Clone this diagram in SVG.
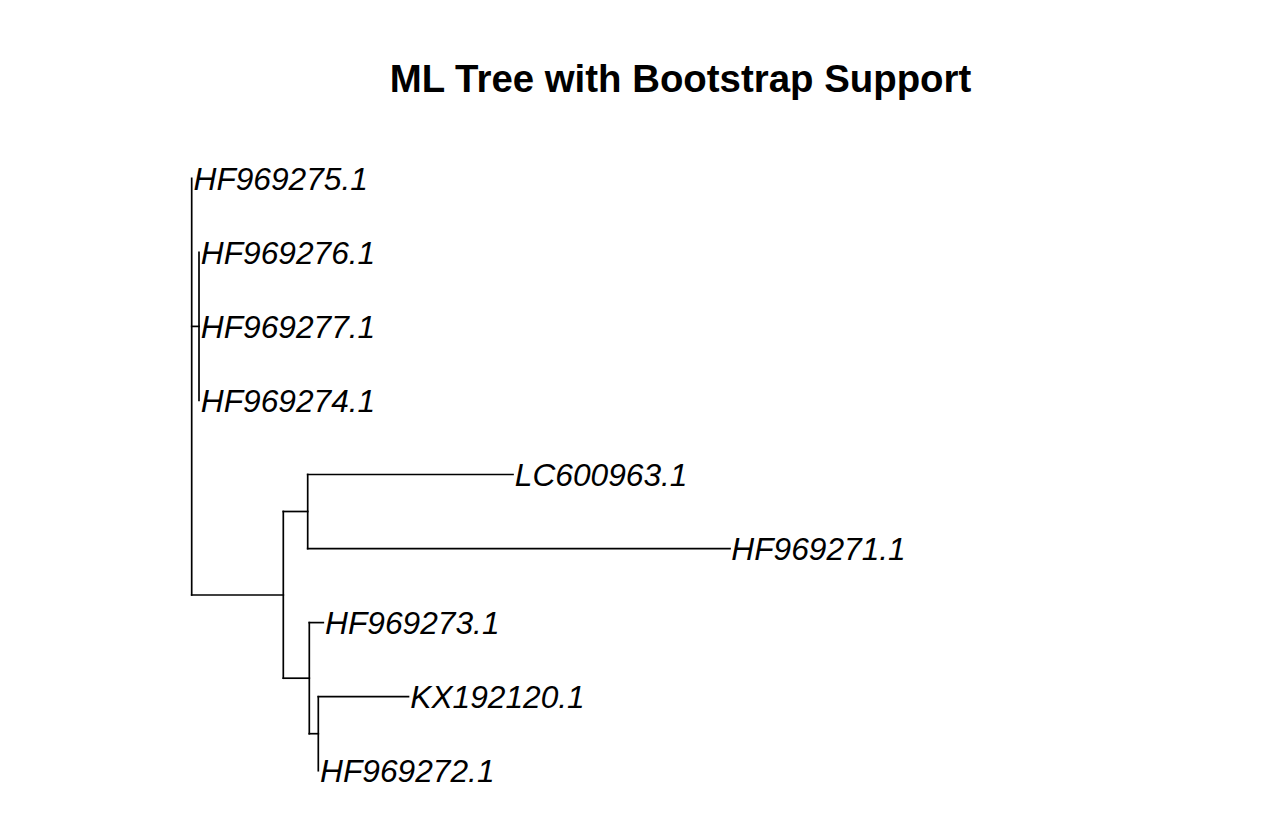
<svg xmlns="http://www.w3.org/2000/svg" width="1264" height="834" viewBox="0 0 1264 834">
<style>
.e{stroke:#000;stroke-width:1.7;fill:none;stroke-linecap:square}
.t{font-family:"Liberation Sans",Arial,sans-serif;font-style:italic;font-size:31.7px;fill:#000}
.h{font-family:"Liberation Sans",Arial,sans-serif;font-weight:bold;font-size:38.4px;fill:#000}
</style>
<rect width="1264" height="834" fill="#fff"/>
<text class="h" x="680.5" y="92" text-anchor="middle">ML Tree with Bootstrap Support</text>
<g id="edges">
<path class="e" d="M191.7,178.3V595"/>
<path class="e" d="M191.7,326.4H199"/>
<path class="e" d="M199,252.4V400.5"/>
<path class="e" d="M191.7,595H283.3"/>
<path class="e" d="M283.3,511.5V678.2"/>
<path class="e" d="M283.3,511.5H307.7"/>
<path class="e" d="M307.7,474.5V548.6"/>
<path class="e" d="M307.7,474.5H513"/>
<path class="e" d="M307.7,548.6H730"/>
<path class="e" d="M283.3,678.2H309.3"/>
<path class="e" d="M309.3,622.6V733.7"/>
<path class="e" d="M309.3,622.6H323.3"/>
<path class="e" d="M309.3,733.7H318.3"/>
<path class="e" d="M318.3,696.7V770.7"/>
<path class="e" d="M318.3,696.7H408.5"/>
</g>
<g id="HF969275.1"><text class="t" x="193.5" y="189.6">HF969275.1</text></g>
<g id="HF969276.1"><text class="t" x="200.8" y="263.7">HF969276.1</text></g>
<g id="HF969277.1"><text class="t" x="200.8" y="337.7">HF969277.1</text></g>
<g id="HF969274.1"><text class="t" x="200.8" y="411.8">HF969274.1</text></g>
<g id="LC600963.1"><text class="t" x="514.8" y="485.8">LC600963.1</text></g>
<g id="HF969271.1"><text class="t" x="731.3" y="559.9">HF969271.1</text></g>
<g id="HF969273.1"><text class="t" x="325.1" y="633.9">HF969273.1</text></g>
<g id="KX192120.1"><text class="t" x="410.3" y="708">KX192120.1</text></g>
<g id="HF969272.1"><text class="t" x="320.1" y="782">HF969272.1</text></g>
</svg>
